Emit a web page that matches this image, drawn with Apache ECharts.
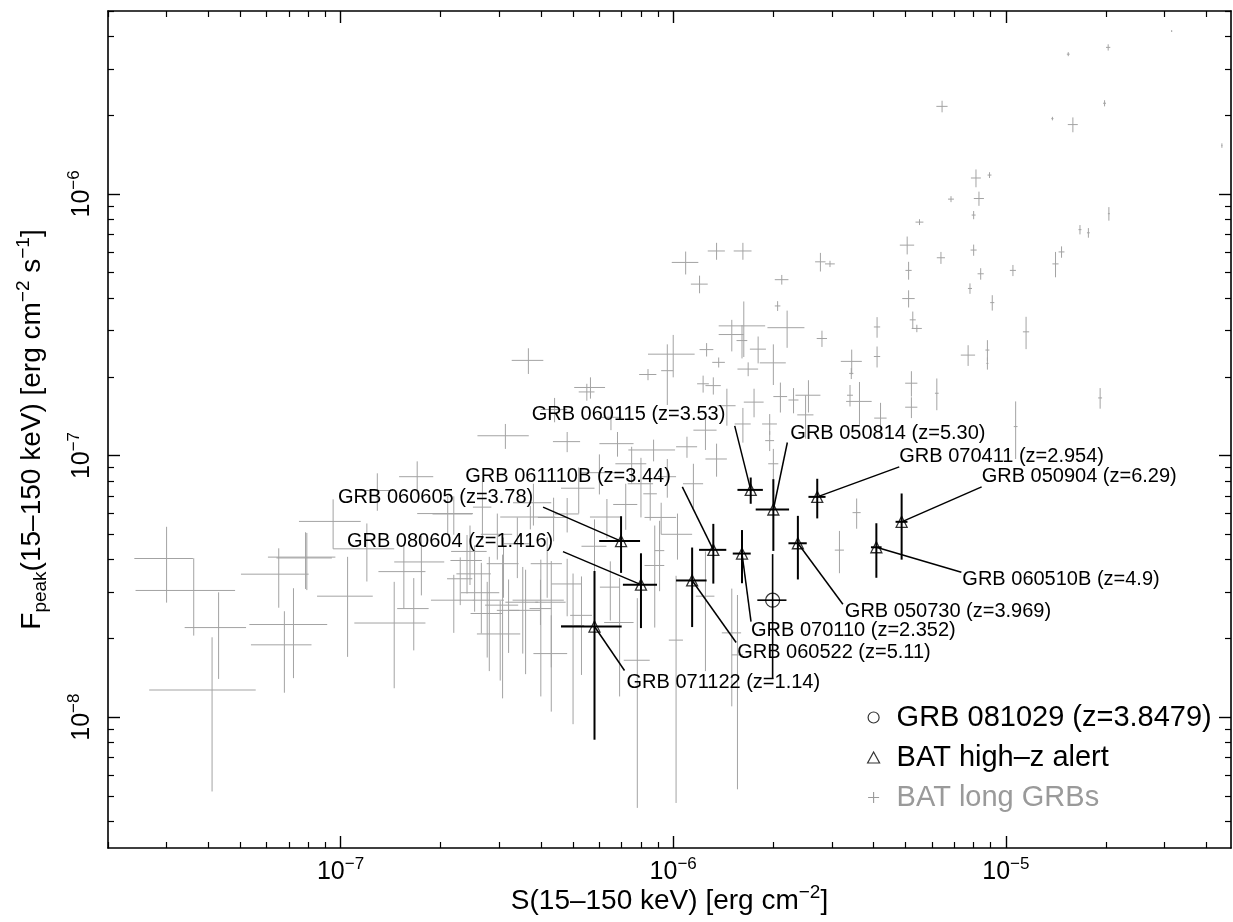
<!DOCTYPE html>
<html>
<head>
<meta charset="utf-8">
<title>BAT peak flux vs fluence</title>
<script src="https://cdn.jsdelivr.net/npm/echarts@6/dist/echarts.min.js"></script>
<style>
  html, body { margin: 0; padding: 0; background: #fff; }
  #chart { width: 1233px; height: 922px; }
</style>
</head>
<body>
<div id="chart"></div>
<script>
// BAT long GRBs: [fluence S, error on S, peak flux F, error on F]
const longGrbs = [
  [2.03e-5, 3e-7, 3.63e-6, 1e-7], [1.54e-5, 1.5e-7, 3.42e-6, 6e-8], [3.15e-5, 1e-7, 4.19e-6, 3e-8],
  [6.43e-6, 2.5e-7, 2.16e-6, 1.1e-7], [1.98e-5, 2e-7, 2.22e-6, 6e-8], [1.38e-5, 1e-7, 1.94e-6, 3e-8],
  [1.59e-5, 5.5e-7, 1.84e-6, 1.2e-7], [4.46e-5, 1.5e-7, 1.53e-6, 3e-8], [8.13e-6, 2.8e-7, 1.15e-6, 9e-8],
  [8.93e-6, 1.2e-7, 1.18e-6, 3e-8], [6.84e-6, 1.4e-7, 9.55e-7, 2.5e-8], [8.3e-6, 2.9e-7, 9.6e-7, 6e-8],
  [8.0e-6, 1.1e-7, 8.3e-7, 3e-8], [2.04e-5, 1.4e-7, 8.4e-7, 5e-8], [5.5e-6, 1.5e-7, 7.8e-7, 2e-8],
  [5.05e-6, 2.5e-7, 6.37e-7, 5e-8], [1.67e-5, 1.7e-7, 7.3e-7, 3e-8], [1.77e-5, 1.7e-7, 7.1e-7, 3e-8],
  [1.47e-5, 3e-7, 6.0e-7, 3e-8], [1.41e-5, 3e-7, 5.4e-7, 6e-8], [8.0e-6, 1.7e-7, 6.1e-7, 3e-8],
  [6.38e-6, 1.8e-7, 5.7e-7, 3e-8], [1.05e-5, 2.2e-7, 5.1e-7, 2.5e-8], [5.1e-6, 1.1e-7, 5.1e-7, 4e-8],
  [8.4e-6, 1.8e-7, 4.95e-7, 2.5e-8], [7.8e-6, 1.1e-7, 4.35e-7, 2e-8], [9.1e-6, 1.3e-7, 3.84e-7, 2.6e-8],
  [5.1e-6, 2.2e-7, 3.98e-7, 3e-8], [5.25e-6, 1.1e-7, 3.3e-7, 2.5e-8], [5.4e-6, 1.9e-7, 3.06e-7, 1e-8],
  [1.15e-5, 2.5e-7, 2.97e-7, 4.2e-8], [8.8e-6, 1.2e-7, 2.53e-7, 2.3e-8], [8.8e-6, 6e-8, 2.25e-7, 1.2e-8],
  [7.7e-6, 3.8e-7, 2.42e-7, 2.2e-8], [1.92e-5, 2.6e-7, 1.66e-7, 1.5e-8], [1.07e-5, 1.4e-7, 1.29e-7, 3.2e-8],
  [6.2e-6, 8e-8, 1.73e-7, 2.4e-8], [5.2e-6, 2.2e-7, 1.89e-7, 2.1e-8], [5.2e-6, 2.2e-7, 1.53e-7, 1.4e-8],
  [4.2e-6, 1.8e-7, 1.39e-7, 2e-8], [4.1e-6, 9e-8, 3.1e-7, 2.8e-8], [4.1e-6, 9e-8, 2.39e-7, 2.2e-8],
  [3.44e-6, 2.5e-7, 2.29e-7, 2.5e-8], [3.43e-6, 5e-8, 2.06e-7, 1e-8], [3.4e-6, 7e-8, 1.7e-7, 1.6e-8],
  [3.63e-6, 3.2e-7, 1.61e-7, 3e-8], [2.8e-6, 1e-7, 2.8e-7, 2e-8], [2.2e-6, 2.8e-7, 3.08e-7, 5e-8],
  [2.0e-6, 1.8e-7, 2.26e-7, 4e-8], [2.77e-6, 1e-7, 5.5e-7, 4.5e-8], [2.96e-6, 1e-7, 5.4e-7, 1.5e-8],
  [2.12e-6, 1e-7, 4.7e-7, 2e-8], [2.06e-6, 4e-8, 3.73e-7, 1.6e-8], [2.1e-6, 1e-7, 1.68e-7, 2.2e-8],
  [2.3e-6, 8e-8, 1.63e-7, 1.8e-8], [2.55e-6, 2.2e-7, 1.7e-7, 2.4e-8], [2.5e-6, 1.4e-7, 1.43e-7, 2.7e-8],
  [1.09e-6, 1e-7, 5.47e-7, 5.5e-8], [1.2e-6, 7e-8, 4.52e-7, 3.5e-8], [1.35e-6, 8e-8, 6.05e-7, 4.5e-8],
  [1.62e-6, 1e-7, 6.05e-7, 4.5e-8], [1.63e-6, 2.6e-7, 3.13e-7, 7.5e-8], [1.61e-6, 6e-8, 2.75e-7, 4e-8],
  [1.0e-6, 1.6e-7, 2.44e-7, 4.5e-8], [1.26e-6, 6e-8, 2.54e-7, 1.5e-8], [1.37e-6, 6e-8, 2.27e-7, 1e-8],
  [1.68e-6, 1.2e-7, 2.14e-7, 1.3e-8], [9.6e-7, 4e-8, 2.11e-7, 5.5e-8], [8.4e-7, 5e-8, 2.04e-7, 1e-8],
  [3.67e-7, 4e-8, 2.31e-7, 2.6e-8], [5.64e-7, 6e-8, 1.82e-7, 1.7e-8], [5.5e-7, 3e-8, 1.75e-7, 1.3e-8],
  [1.23e-6, 5e-8, 1.88e-7, 1.4e-8], [1.32e-6, 7e-8, 1.85e-7, 1.4e-8], [1.95e-6, 1e-7, 1.32e-7, 1.2e-8],
  [3.13e-7, 5.5e-8, 1.19e-7, 1.3e-8], [4.8e-7, 4.5e-8, 1.13e-7, 1e-8], [6.8e-7, 8e-8, 1.11e-7, 1.2e-8],
  [8.73e-7, 1.4e-7, 1.05e-7, 1e-8], [1.1e-6, 8e-8, 1.08e-7, 1e-8], [1.35e-6, 1e-7, 9.7e-8, 1.4e-8],
  [1.62e-6, 9e-8, 1.32e-7, 2e-8], [1.95e-6, 6e-8, 1.14e-7, 1e-8], [2.0e-6, 7e-8, 9.3e-8, 1.3e-8],
  [1.7e-7, 2e-8, 8.3e-8, 1.2e-8], [1.29e-7, 1.5e-8, 7.35e-8, 1.2e-8], [2.19e-7, 3e-8, 5.98e-8, 1e-8],
  [2.67e-7, 1.7e-8, 6.35e-8, 1.6e-8], [3.72e-7, 7e-8, 5.82e-8, 6e-9], [4.37e-7, 4.5e-8, 5.8e-8, 1.1e-8],
  [4.8e-7, 4e-8, 5.98e-8, 9e-9], [6.32e-7, 7e-8, 5.82e-8, 1e-8], [8.53e-7, 4e-8, 7.14e-8, 1.5e-8],
  [9.2e-7, 1e-7, 5.8e-8, 8e-9], [9.1e-7, 3e-8, 4.33e-8, 1.3e-8], [1.03e-6, 1.1e-7, 5.0e-8, 1e-8],
  [7.85e-8, 1.8e-8, 4.09e-8, 1e-8], [2.96e-7, 3.2e-8, 5.0e-8, 1e-8], [2.4e-7, 2.6e-8, 3.97e-8, 1e-8],
  [3.09e-7, 3.4e-8, 3.86e-8, 1e-8], [4.18e-7, 4.5e-8, 3.86e-8, 1e-8], [1.66e-7, 1.8e-8, 2.6e-8, 8e-9],
  [2.19e-7, 3.2e-8, 2.8e-8, 7e-9], [2.76e-7, 3e-8, 2.49e-8, 8e-9], [3.99e-7, 7e-8, 2.8e-8, 5.5e-9],
  [3.02e-7, 4.5e-8, 2.08e-8, 7e-9], [6.47e-7, 4.5e-8, 3.14e-8, 8e-9], [2.29e-7, 2e-8, 3.38e-8, 7e-9],
  [4.8e-7, 5e-8, 3.23e-8, 8e-9], [7.8e-7, 7e-8, 1.65e-8, 1.2e-8], [1.02e-6, 5e-8, 1.97e-8, 1.5e-8],
  [1.56e-6, 6e-8, 1.73e-8, 1.2e-8], [3.56e-6, 1e-7, 6.05e-8, 8e-9], [3.16e-6, 1e-7, 4.35e-8, 8e-9],
  [3.0e-8, 6e-9, 4.04e-8, 1.3e-8], [3.62e-8, 1.2e-8, 3.05e-8, 1.0e-8], [4.11e-8, 1.45e-8, 1.27e-8, 7.5e-9],
  [6.52e-8, 1.5e-8, 3.52e-8, 9e-9], [7.92e-8, 1.5e-8, 4.06e-8, 1.0e-8], [6.78e-8, 1.4e-8, 1.89e-8, 6.5e-9],
  [7.22e-8, 1.9e-8, 2.26e-8, 8.5e-9], [1.45e-7, 3.5e-8, 2.29e-8, 1.0e-8], [1.75e-7, 3e-8, 3.92e-8, 1.0e-8],
  [2.65e-7, 3.5e-8, 2.99e-8, 9e-9], [3.2e-7, 2.5e-8, 2.56e-8, 8e-9], [3.53e-7, 4e-8, 2.75e-8, 1.0e-8],
  [4.3e-7, 5e-8, 1.75e-8, 7e-9], [2.53e-7, 3e-8, 3.53e-8, 1.0e-8], [5.0e-7, 4e-8, 2.24e-8, 1.3e-8],
  [2.8e-7, 3e-8, 2.8e-8, 1.3e-8], [3.07e-7, 3.5e-8, 2.68e-8, 1.5e-8], [3.6e-7, 4e-8, 2.56e-8, 1.1e-8],
  [4.0e-7, 3e-8, 2.6e-8, 1.4e-8], [4.3e-7, 4.5e-8, 2.75e-8, 1.2e-8], [2.45e-7, 3e-8, 4.3e-8, 1.1e-8],
  [2.1e-7, 4e-8, 6.0e-8, 1.0e-8], [1.55e-7, 2.5e-8, 3.6e-8, 1.0e-8], [3.4e-7, 3e-8, 4.6e-8, 1.2e-8],
  [3.8e-7, 5e-8, 6.6e-8, 1.2e-8], [5.2e-7, 6e-8, 7.5e-8, 1.5e-8], [5.8e-7, 5e-8, 4.5e-8, 1.2e-8],
  [6.0e-7, 7e-8, 8.6e-8, 1.5e-8], [7.2e-7, 6e-8, 6.5e-8, 1.3e-8], [7.5e-7, 8e-8, 9.3e-8, 1.5e-8],
  [8.0e-7, 7e-8, 7.8e-8, 2e-8], [9.6e-7, 6e-8, 8.3e-8, 1.4e-8], [1.15e-6, 8e-8, 7.8e-8, 1.5e-8],
  [1.25e-6, 1e-7, 1.25e-7, 2e-8], [1.45e-6, 9e-8, 1.55e-7, 2.5e-8], [1.75e-6, 1.2e-7, 1.6e-7, 2e-8],
  [1.8e-6, 1e-7, 2.55e-7, 3e-8], [1.5e-6, 1.3e-7, 2.9e-7, 4e-8], [6.5e-7, 5e-8, 1.4e-7, 1.5e-8],
  [4.4e-7, 4e-8, 1.5e-7, 1.6e-8], [5.3e-7, 4e-8, 2.45e-8, 1.0e-8], [6.9e-7, 7e-8, 2.3e-8, 1.1e-8],
  [8.8e-7, 6e-8, 3.8e-8, 1.6e-8], [1.25e-6, 8e-8, 2.9e-8, 1.4e-8], [1.5e-6, 1e-7, 2.1e-8, 1.0e-8],
  [9.5e-8, 2e-8, 5.6e-8, 1.2e-8], [1.2e-7, 2.5e-8, 4.4e-8, 1.1e-8], [1.05e-7, 2e-8, 2.9e-8, 1.2e-8],
  [4.3e-8, 9e-9, 2.2e-8, 8e-9]
];

// BAT high-z alerts
const highzNames = [
  'GRB 060115 (z=3.53)', 'GRB 050814 (z=5.30)', 'GRB 070411 (z=2.954)', 'GRB 050904 (z=6.29)',
  'GRB 061110B (z=3.44)', 'GRB 060605 (z=3.78)', 'GRB 080604 (z=1.416)', 'GRB 070110 (z=2.352)',
  'GRB 050730 (z=3.969)', 'GRB 060510B (z=4.9)', 'GRB 060522 (z=5.11)', 'GRB 071122 (z=1.14)'
];
const highzS    = [1.71e-6, 2.0e-6, 2.71e-6, 4.86e-6, 1.32e-6, 6.97e-7, 8.0e-7, 1.61e-6, 2.37e-6, 4.08e-6, 1.14e-6, 5.8e-7];
const highzSErr = [1.5e-7, 2.3e-7, 1.6e-7, 2.0e-7, 1.24e-7, 9.8e-8, 9.4e-8, 1.0e-7, 1.5e-7, 1.5e-7, 1.2e-7, 1.2e-7];
const highzF    = [7.39e-8, 6.22e-8, 6.95e-8, 5.58e-8, 4.36e-8, 4.71e-8, 3.21e-8, 4.22e-8, 4.62e-8, 4.46e-8, 3.33e-8, 2.22e-8];
const highzFErr = [8.5e-9, 1.9e-8, 1.2e-8, 1.58e-8, 1.12e-8, 1.15e-8, 1.02e-8, 9.7e-9, 1.26e-8, 1.05e-8, 1.12e-8, 1.4e-8];

// GRB 081029: [S, dS, F, dF]
const grb081029 = [1.99e-6, 2.0e-7, 2.8e-8, 1.4e-8];

// axis ranges and decade labels
const sRange = [2e-8, 4.75e-5];
const fRange = [3.162e-9, 5e-6];
const sDecades = [1e-7, 1e-6, 1e-5];
const fDecades = [1e-8, 1e-7, 1e-6];

// where each high-z annotation sits, px from its marker: [text dx, text dy, line start dx, line start dy]
const labelPlacement = [
  [-219, -75, -16, -64], [17, -76, 14, -67], [82, -40, 82, -30], [80, -45, 80, -35],
  [-248, -73, -31, -63], [-283, -44, -78, -34], [-294, -43, -78, -33], [9, 77, 9, 68],
  [47, 68, 45, 61], [86, 32, 85, 25], [45, 72, 44, 62], [32, 56, 30, 44]
];

const FONT = '"Liberation Sans", Arial, Helvetica, sans-serif';

function minorTicks(range) {
  const out = [];
  const lo = Math.floor(Math.log10(range[0]));
  const hi = Math.ceil(Math.log10(range[1]));
  for (let e = lo; e <= hi; e++) {
    for (let m = 2; m <= 9; m++) {
      const v = m * Math.pow(10, e);
      if (v >= range[0] && v <= range[1]) out.push(v);
    }
  }
  return out;
}

function powerLabel(v) {
  const e = Math.round(Math.log10(v));
  return '{b|10}{s|' + (e < 0 ? '\u2212' + (-e) : e) + '}';
}

const tickRich = {
  b: { fontSize: 25, fontFamily: FONT, color: '#000', lineHeight: 32 },
  s: { fontSize: 17, fontFamily: FONT, color: '#000', lineHeight: 17, verticalAlign: 'top' }
};
const nameRich = {
  t: { fontSize: 28, fontFamily: FONT, color: '#000', lineHeight: 36 },
  s: { fontSize: 19, fontFamily: FONT, color: '#000', lineHeight: 19, verticalAlign: 'top' },
  sub: { fontSize: 19, fontFamily: FONT, color: '#000', lineHeight: 19, verticalAlign: 'bottom' }
};

// one frame side = one axis of short ticks + one axis of long decade ticks
function frameAxes(dim, pos, range, withLabels) {
  const base = {
    type: 'log', position: pos, min: range[0], max: range[1],
    splitLine: { show: false }, axisPointer: { show: false }
  };
  const minor = Object.assign({}, base, {
    axisLine: { show: true, onZero: false, lineStyle: { color: '#000', width: 1.6 } },
    axisTick: { show: true, inside: true, length: 6, customValues: minorTicks(range), lineStyle: { color: '#000', width: 1.2 } },
    axisLabel: { show: false }
  });
  const major = Object.assign({}, base, {
    axisLine: { show: false, onZero: false },
    axisTick: { show: true, inside: true, length: 12, customValues: dim === 'x' ? sDecades : fDecades, lineStyle: { color: '#000', width: 1.4 } },
    axisLabel: { show: false }
  });
  if (withLabels) {
    minor.axisLabel = {
      show: true, customValues: dim === 'x' ? sDecades : fDecades,
      formatter: powerLabel, rich: tickRich,
      margin: dim === 'x' ? 8 : 10, rotate: dim === 'x' ? 0 : 90
    };
  }
  return [minor, major];
}

function errorBars(api, color, width) {
  const s = api.value(0), ds = api.value(1), f = api.value(2), df = api.value(3);
  const c = api.coord([s, f]);
  const x0 = api.coord([Math.max(s - ds, sRange[0]), f])[0];
  const x1 = api.coord([s + ds, f])[0];
  const y0 = api.coord([s, Math.max(f - df, fRange[0])])[1];
  const y1 = api.coord([s, f + df])[1];
  const style = { stroke: color, lineWidth: width };
  return [
    { type: 'line', shape: { x1: x0, y1: c[1], x2: x1, y2: c[1] }, style: style },
    { type: 'line', shape: { x1: c[0], y1: y0, x2: c[0], y2: y1 }, style: style }
  ];
}

const highzRows = highzS.map((s, i) => [s, highzSErr[i], highzF[i], highzFErr[i]]);

const xAxes = frameAxes('x', 'bottom', sRange, true).concat(frameAxes('x', 'top', sRange, false));
const yAxes = frameAxes('y', 'left', fRange, true).concat(frameAxes('y', 'right', fRange, false));

Object.assign(xAxes[0], {
  name: '{t|S(15\u2013150 keV) [erg cm}{s|\u22122}{t|]}',
  nameLocation: 'middle', nameGap: 35, nameMoveOverlap: false,
  nameTextStyle: { rich: nameRich }
});
Object.assign(yAxes[0], {
  name: '{t|F}{sub|peak}{t|(15\u2013150 keV) [erg cm}{s|\u22122}{t| s}{s|\u22121}{t|]}',
  nameLocation: 'middle', nameRotate: 90, nameGap: 58, nameMoveOverlap: false,
  nameTextStyle: { rich: nameRich }
});

const chart = echarts.init(document.getElementById('chart'));
chart.setOption({
  animation: false,
  backgroundColor: '#fff',
  grid: { left: 108, right: 2, top: 11, bottom: 74, containLabel: false, outerBoundsMode: 'none' },
  xAxis: xAxes,
  yAxis: yAxes,
  legend: {
    orient: 'vertical', left: 867, top: 703, padding: 0,
    itemWidth: 12, itemHeight: 11, itemGap: 11, selectedMode: false,
    textStyle: { fontSize: 29, fontFamily: FONT, color: '#000', padding: [0, 0, 0, 12] },
    data: [
      { name: 'GRB 081029 (z=3.8479)', icon: 'circle',
        itemStyle: { color: 'rgba(0,0,0,0)', borderColor: '#000', borderWidth: 1.2 } },
      { name: 'BAT high\u2013z alert', icon: 'triangle',
        itemStyle: { color: 'rgba(0,0,0,0)', borderColor: '#000', borderWidth: 1.2 } },
      { name: 'BAT long GRBs', icon: 'path://M4.5,0h1v4.5h4.5v1h-4.5v4.5h-1v-4.5h-4.5v-1h4.5z',
        itemStyle: { color: '#9a9a9a' }, textStyle: { color: '#9a9a9a' } }
    ]
  },
  series: [
    {
      name: 'BAT long GRBs', type: 'custom', xAxisIndex: 0, yAxisIndex: 0,
      itemStyle: { color: '#9a9a9a' }, clip: true, silent: true,
      encode: { x: 0, y: 2 }, data: longGrbs,
      renderItem: (params, api) => ({ type: 'group', children: errorBars(api, '#a3a3a3', 1) })
    },
    {
      name: 'high-z bars', type: 'custom', xAxisIndex: 0, yAxisIndex: 0, clip: true, silent: true, z: 3,
      encode: { x: 0, y: 2 }, data: highzRows,
      renderItem: (params, api) => {
        const i = params.dataIndex;
        const c = api.coord([api.value(0), api.value(2)]);
        const p = labelPlacement[i];
        const children = errorBars(api, '#000', 2);
        children.push({
          type: 'line',
          shape: { x1: c[0] + p[2], y1: c[1] + p[3], x2: c[0], y2: c[1] },
          style: { stroke: '#000', lineWidth: 1.5 }
        });
        children.push({
          type: 'text', x: c[0] + p[0], y: c[1] + p[1],
          style: { text: highzNames[i], fill: '#000', fontSize: 20, fontFamily: FONT, align: 'left', verticalAlign: 'middle' }
        });
        return { type: 'group', children: children };
      }
    },
    {
      name: 'GRB 081029 bars', type: 'custom', xAxisIndex: 0, yAxisIndex: 0, clip: true, silent: true, z: 3,
      encode: { x: 0, y: 2 }, data: [grb081029],
      renderItem: (params, api) => ({ type: 'group', children: errorBars(api, '#000', 1.6) })
    },
    {
      name: 'BAT high\u2013z alert', type: 'scatter', xAxisIndex: 0, yAxisIndex: 0, z: 4, silent: true,
      symbol: 'triangle', symbolSize: 11,
      itemStyle: { color: 'rgba(0,0,0,0)', borderColor: '#000', borderWidth: 1.3 },
      data: highzS.map((s, i) => [s, highzF[i]])
    },
    {
      name: 'GRB 081029 (z=3.8479)', type: 'scatter', xAxisIndex: 0, yAxisIndex: 0, z: 4, silent: true,
      symbol: 'circle', symbolSize: 14,
      itemStyle: { color: 'rgba(0,0,0,0)', borderColor: '#000', borderWidth: 1.2 },
      data: [[grb081029[0], grb081029[2]]]
    }
  ]
});
</script>
</body>
</html>
